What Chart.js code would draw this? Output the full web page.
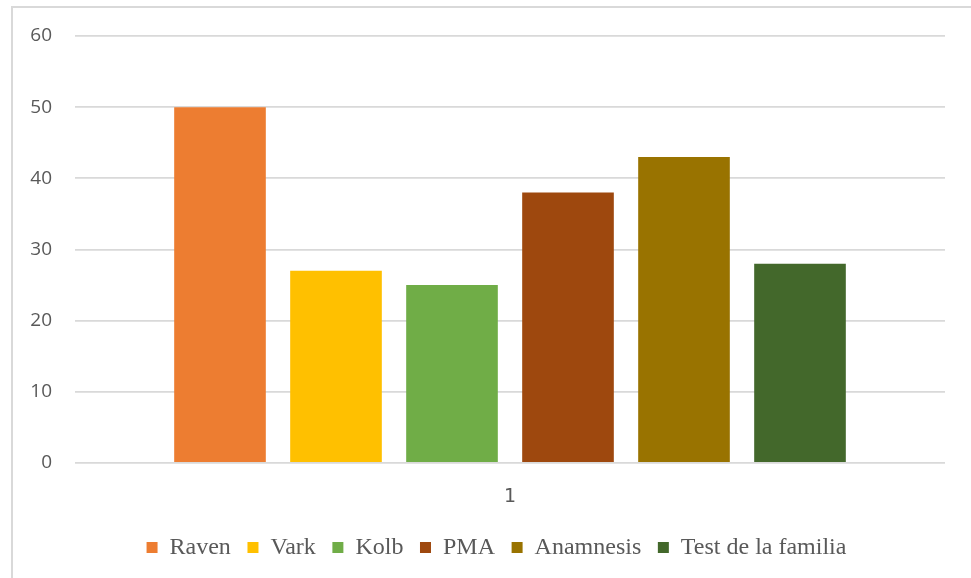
<!DOCTYPE html>
<html>
<head>
<meta charset="utf-8">
<script src="https://cdn.jsdelivr.net/npm/chart.js@4/dist/chart.umd.min.js"></script>
<style>
  html, body { margin: 0; padding: 0; background: #fff; overflow: hidden; }
  #frame { position: absolute; left: 11px; top: 6px; width: 1000px; height: 620px;
           border-left: 2px solid #d9d9d9; border-top: 2px solid #d9d9d9; }
  #chart { position: absolute; left: 0; top: 0; }
</style>
</head>
<body>
<div id="frame"></div>
<canvas id="chart" width="971" height="578"></canvas>
<script>
'use strict';

const categories = ['1'];
const seriesNames = ['Raven', 'Vark', 'Kolb', 'PMA', 'Anamnesis', 'Test de la familia'];
const seriesValues = [50, 27, 25, 38, 43, 28];
const seriesColors = ['#ED7D31', '#FFC000', '#70AD47', '#9E480E', '#997300', '#43682B'];
const yTicks = [0, 10, 20, 30, 40, 50, 60];

const datasets = seriesNames.map((name, i) => ({
  label: name,
  data: [seriesValues[i]],
  backgroundColor: seriesColors[i],
  borderWidth: 0,
  categoryPercentage: 0.8,
  barPercentage: 0.79
}));

// push the legend a bit right so it sits where the original one is
const legendShift = {
  id: 'legendShift',
  afterLayout(chart) {
    chart.legend.left += 48;
  }
};

const ctx = document.getElementById('chart').getContext('2d');
new Chart(ctx, {
  type: 'bar',
  data: { labels: categories, datasets },
  plugins: [legendShift],
  options: {
    responsive: false,
    animation: false,
    layout: { padding: { left: 0, right: 26, top: 36, bottom: 8.5 } },
    plugins: {
      tooltip: { enabled: false },
      legend: {
        position: 'bottom',
        labels: {
          boxWidth: 11,
          boxHeight: 11,
          padding: 16.6,
          color: '#595959',
          font: { family: 'Liberation Serif', size: 24 }
        }
      }
    },
    scales: {
      x: {
        grid: { display: false },
        border: { display: false },
        ticks: { color: '#595959', padding: 15, font: { family: 'DejaVu Sans', size: 19 } },
        afterFit: (s) => { s.height = 56; }
      },
      y: {
        min: yTicks[0],
        max: yTicks[yTicks.length - 1],
        afterBuildTicks: (s) => { s.ticks = yTicks.map(v => ({ value: v })); },
        grid: { color: '#d9d9d9', lineWidth: 1.7, drawTicks: false },
        border: { display: false },
        ticks: { color: '#595959', padding: 23, font: { family: 'Open Sans', size: 19 } },
        afterFit: (s) => { s.width = 75; }
      }
    }
  }
});
</script>
</body>
</html>
